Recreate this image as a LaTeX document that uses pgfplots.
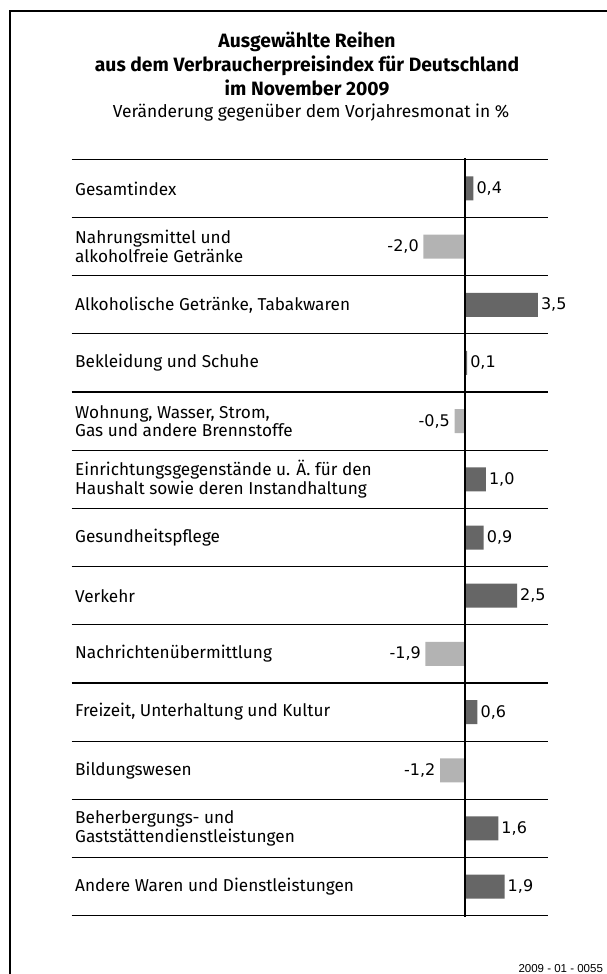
\documentclass[border=0pt]{standalone}
\usepackage{fontspec}
\setmainfont{Fira Sans}
\newfontfamily\numfont{DejaVu Sans}
\newfontfamily\footfont{Liberation Sans}
\usepackage{pgfplots}
\pgfplotsset{compat=1.18}
\definecolor{darkbar}{HTML}{666666}
\definecolor{lightbar}{HTML}{B3B3B3}

\begin{document}
\begin{tikzpicture}
\useasboundingbox (0pt,0pt) rectangle (606pt,-974pt);
\draw[line width=1.4pt] (10pt,-990pt) -- (10pt,-11pt) -- (620pt,-11pt);

\node[anchor=base, font=\bfseries\fontsize{19.3}{22}\selectfont] at (307pt,-47.7pt) {Ausgewählte Reihen};
\node[anchor=base, font=\bfseries\fontsize{19.3}{22}\selectfont] at (307pt,-71.7pt) {aus dem Verbraucherpreisindex für Deutschland};
\node[anchor=base, font=\bfseries\fontsize{19.3}{22}\selectfont] at (307pt,-95pt) {im November 2009};
\node[anchor=base, font=\fontsize{17.4}{20}\selectfont] at (311pt,-117.7pt) {Veränderung gegenüber dem Vorjahresmonat in \%};

\begin{axis}[
  at={(71.7pt,-915.7pt)}, anchor=south west,
  scale only axis, width=476.3pt, height=756.4pt,
  xmin=-18.91, xmax=3.99,
  ymin=-0.5, ymax=12.5, y dir=reverse,
  axis line style={draw=none},
  xtick=\empty,
  ytick={0,...,12},
  major tick length=0pt,
  yticklabels={
    Gesamtindex,
    {Nahrungsmittel und\\alkoholfreie Getränke},
    {Alkoholische Getränke, Tabakwaren},
    Bekleidung und Schuhe,
    {Wohnung, Wasser, Strom,\\Gas und andere Brennstoffe},
    {Einrichtungsgegenstände u. Ä. für den\\Haushalt sowie deren Instandhaltung},
    Gesundheitspflege,
    Verkehr,
    Nachrichtenübermittlung,
    {Freizeit, Unterhaltung und Kultur},
    Bildungswesen,
    {Beherbergungs- und\\Gaststättendienstleistungen},
    Andere Waren und Dienstleistungen},
  yticklabel style={anchor=west, align=left, inner sep=0pt, xshift=3.3pt,
    font=\fontsize{17.2}{18.7}\selectfont},
  extra y ticks={-0.5,0.5,...,12.5},
  extra y tick labels={},
  extra y tick style={grid=major, major grid style={black, line width=1.2pt}},
  xbar, bar width=24pt, bar shift=0pt,
  point meta=explicit symbolic,
  nodes near coords={\pgfplotspointmeta},
  clip=false
]
\addplot[draw=none, fill=darkbar,
  every node near coord/.append style={anchor=west, inner sep=3pt,
    font=\numfont\fontsize{16}{18}\selectfont}]
  coordinates {
    (0.4,0) [0,4]
    (3.5,2) [3,5]
    (0.1,3) [0,1]
    (1.0,5) [1,0]
    (0.9,6) [0,9]
    (2.5,7) [2,5]
    (0.6,9) [0,6]
    (1.6,11) [1,6]
    (1.9,12) [1,9]
  };
\addplot[draw=none, fill=lightbar,
  every node near coord/.append style={anchor=east, inner sep=4.5pt,
    font=\numfont\fontsize{16}{18}\selectfont}]
  coordinates {
    (-2.0,1) [-2,0]
    (-0.5,4) [-0,5]
    (-1.9,8) [-1,9]
    (-1.2,10) [-1,2]
  };
\draw[black, line width=2.2pt] (axis cs:0,-0.52) -- (axis cs:0,12.52);
\end{axis}

\node[anchor=base west, font=\footfont\fontsize{11.5}{13}\selectfont] at (515pt,-972pt) {2009 - 01 - 0055};
\end{tikzpicture}
\end{document}
